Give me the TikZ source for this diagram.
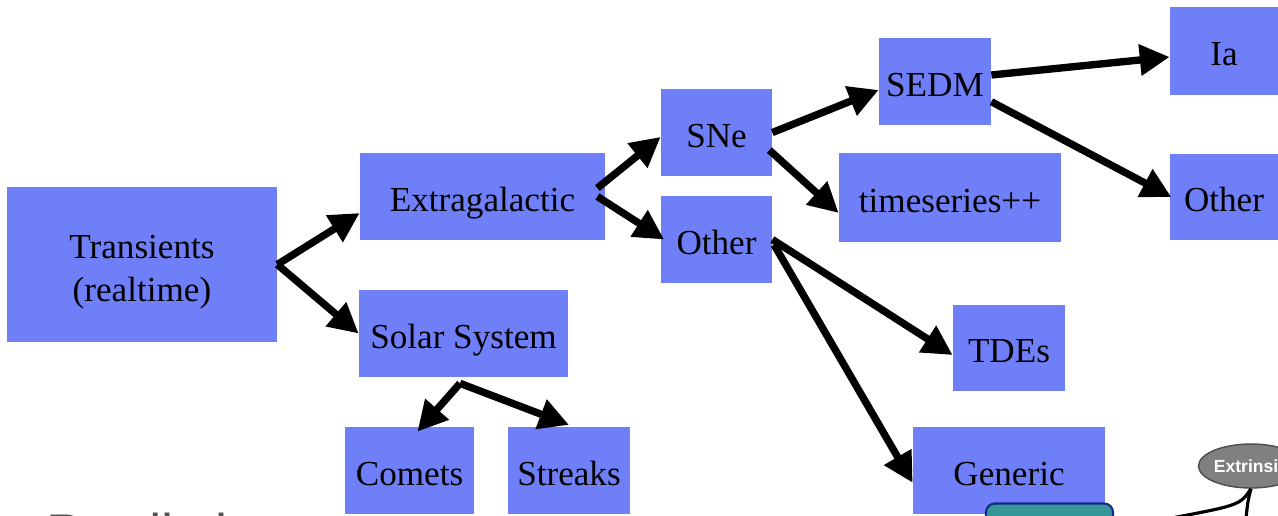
\documentclass[tikz,border=0pt]{standalone}
\usepackage{fontspec}
\setmainfont{Liberation Serif}
\setsansfont{Liberation Sans}
\usetikzlibrary{arrows.meta,shapes.geometric}
\definecolor{boxblue}{RGB}{111,127,247}
\definecolor{tealbox}{RGB}{52,150,150}
\definecolor{tealedge}{RGB}{20,40,140}
\definecolor{ovalgray}{RGB}{128,128,128}
\definecolor{slidegray}{RGB}{85,85,85}
\tikzset{
  box/.style={fill=boxblue, inner sep=0pt, minimum height=1.74cm,
    text height=16.6pt, text depth=0pt,
    font=\fontsize{20}{24.5}\selectfont, align=center},
  flow/.style={-{Triangle[length=17pt,width=17pt]}, line width=4.2pt, black}
}
\begin{document}
\begin{tikzpicture}[x=0.02cm, y=-0.02cm]
  \useasboundingbox (0,0) rectangle (1278,515);
  \clip (0,0) rectangle (1278,515);
  % classification tree
  \node[box, minimum width=5.4cm, minimum height=3.1cm, text height=, text depth=] (trans) at (142,264.5) {\rule{0pt}{22pt}Transients\\(realtime)};
  \node[box, minimum width=4.9cm] (extra) at (482.5,196.5) {Extragalactic};
  \node[box, minimum width=4.18cm] (solar) at (463.5,333.5) {Solar System};
  \node[box, minimum width=2.22cm] (sne) at (716.5,132.5) {SNe};
  \node[box, minimum width=2.22cm] (midother) at (716.5,239.5) {Other};
  \node[box, minimum width=2.24cm] (sedm) at (935,81.5) {SEDM};
  \node[box, minimum width=4.44cm, minimum height=1.78cm] (times) at (950,197.5) {timeseries++};
  \node[box, minimum width=2.16cm, minimum height=1.76cm] (ia) at (1224,51) {Ia};
  \node[box, minimum width=2.16cm, minimum height=1.72cm] (otherr) at (1224,197) {Other};
  \node[box, minimum width=2.24cm, minimum height=1.72cm] (tdes) at (1009,348) {TDEs};
  \node[box, minimum width=3.84cm] (generic) at (1009,470.5) {Generic};
  \node[box, minimum width=2.58cm] (comets) at (409.5,470.5) {Comets};
  \node[box, minimum width=2.44cm] (streaks) at (569,470.5) {Streaks};
  \begin{scope}[flow]
    \draw (trans.east) to ([yshift=-9.4pt]extra.west);
    \draw (trans.east) to (solar.west);
    \draw ([shift={(-4.5pt,4.8pt)}]extra.east) to ([yshift=-2.5pt]sne.west);
    \draw ([xshift=-4.5pt]extra.east) to ([xshift=2pt]midother.west);
    \draw (sne.east) to ([yshift=-4.8pt]sedm.west);
    \draw ([shift={(-1.7pt,-10pt)}]sne.east) to ([yshift=-8.8pt]times.west);
    \draw (midother.east) to ([yshift=-4pt]tdes.west);
    \draw ([shift={(1pt,-3pt)}]midother.east) to ([yshift=-7pt]generic.west);
    \draw ([yshift=3.7pt]sedm.east) to ([yshift=-3.4pt]ia.west);
    \draw ([yshift=-11.5pt]sedm.east) to ([xshift=1pt]otherr.west);
    \draw ([shift={(-2pt,-3.4pt)}]solar.south) to ([shift={(4.5pt,-2.8pt)}]comets.north);
    \draw ([shift={(-2pt,-3.4pt)}]solar.south) to ([yshift=1pt]streaks.north);
  \end{scope}
  % pieces of the next slide, cut by the frame
  \node[anchor=north west, inner sep=0pt, text=slidegray, font=\sffamily\fontsize{31}{36}\selectfont] (pred) at (46,513) {Predicti};
  \node[draw=tealedge, line width=1.2pt, fill=tealbox, rounded corners=5pt,
    minimum width=2.54cm, minimum height=0.9cm] (teal) at (1049.5,526) {};
  \node[ellipse, draw=black!70, line width=0.8pt, fill=ovalgray, inner sep=0pt, minimum width=2.04cm,
    minimum height=0.88cm, text=white, font=\sffamily\bfseries\fontsize{10}{12}\selectfont] (extr) at (1251,466) {Extrinsic};
  \coordinate (cutA) at (1172,518);
  \coordinate (cutB) at (1246,518);
  \draw[line width=1.8pt] (extr.south) .. controls (1240,505) .. (cutA);
  \draw[line width=1.8pt] (extr.south) .. controls (1248,500) .. (cutB);
\end{tikzpicture}
\end{document}
